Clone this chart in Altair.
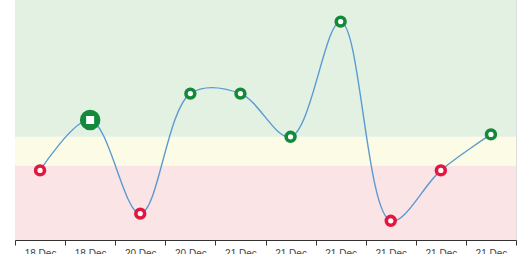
import altair as alt
import pandas as pd

labels = ["18 Dec", "18 Dec", "20 Dec", "20 Dec", "21 Dec", "21 Dec", "21 Dec", "21 Dec", "21 Dec", "21 Dec"]
values = [29, 50, 11, 61, 61, 43, 91, 8, 29, 44]
status = ["bad", "good", "bad", "good", "good", "good", "good", "bad", "bad", "good"]
highlight = [False, True, False, False, False, False, False, False, False, False]

band_lo = [0, 31, 43]
band_hi = [31, 43, 100]
band_col = ["#fbe4e6", "#fcfbe6", "#e3f1e3"]

idx = list(range(len(labels)))
df = pd.DataFrame({"i": idx, "label": labels, "v": values, "status": status, "hl": highlight})
bands = pd.DataFrame({"lo": band_lo, "hi": band_hi, "c": band_col})

label_expr = "[" + ",".join(f"'{l}'" for l in labels) + "][datum.value]"

x = alt.X("i:O", title=None, scale=alt.Scale(paddingInner=0, paddingOuter=0),
          axis=alt.Axis(labelAngle=0, labelExpr=label_expr, tickBand="extent",
                        domainColor="#333", tickColor="#333", labelColor="#444",
                        labelFont="Liberation Sans", labelFontSize=10, tickSize=5,
                        labelPadding=3, grid=False))
yscale = alt.Scale(domain=[0, 100], nice=False, zero=False)

band_layer = alt.Chart(bands).mark_rect().encode(
    y=alt.Y("lo:Q", scale=yscale, axis=None),
    y2="hi:Q",
    x=alt.value(0), x2=alt.value(501),
    color=alt.Color("c:N", scale=None),
)

line = alt.Chart(df).mark_line(interpolate="catmull-rom", color="#5b9bd0", strokeWidth=1.4).encode(
    x=x, y=alt.Y("v:Q", scale=yscale, axis=None)
)

cscale = alt.Scale(domain=["good", "bad"], range=["#128a3a", "#e2163f"])

pts = alt.Chart(df).transform_filter("!datum.hl").mark_point(
    shape="circle", filled=True, fill="white", strokeWidth=3.6, size=78, opacity=1
).encode(
    x=x, y=alt.Y("v:Q", scale=yscale, axis=None),
    stroke=alt.Stroke("status:N", scale=cscale, legend=None),
)

big = alt.Chart(df).transform_filter("datum.hl").mark_point(
    shape="circle", filled=True, size=420, opacity=1
).encode(
    x=x, y=alt.Y("v:Q", scale=yscale, axis=None),
    fill=alt.Fill("status:N", scale=cscale, legend=None),
)
big_sq = alt.Chart(df).transform_filter("datum.hl").mark_point(
    shape="square", filled=True, size=64, color="white", opacity=1
).encode(
    x=x, y=alt.Y("v:Q", scale=yscale, axis=None),
)

chart = alt.layer(band_layer, line, pts, big, big_sq).properties(
    width=501, height=240,
    autosize=alt.AutoSizeParams(type="none"),
    padding={"left": 15, "top": 0, "right": 7, "bottom": 30},
).configure_view(stroke=None).configure(background="white")

chart.save("out.html", embed_options={"renderer": "svg", "actions": False,
                                      "defaultStyle": "body{margin:0 !important;overflow:hidden}"})
